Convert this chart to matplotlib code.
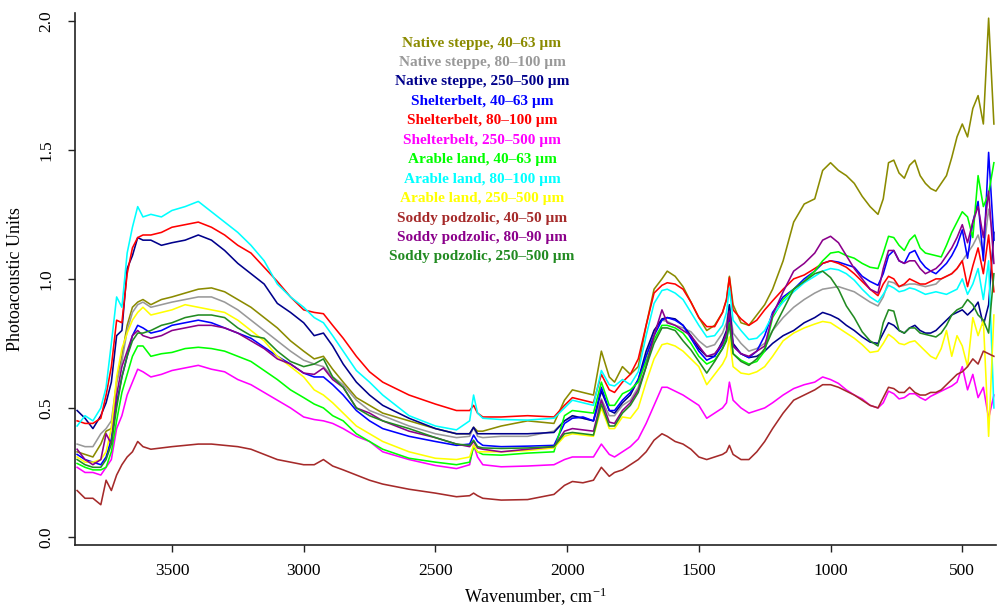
import matplotlib
matplotlib.use("Agg")
import matplotlib.pyplot as plt
import numpy as np

plt.rcParams['font.family'] = ['Liberation Serif', 'DejaVu Serif']
plt.rcParams['mathtext.fontset'] = 'custom'
plt.rcParams['mathtext.rm'] = 'Liberation Serif'
plt.rcParams['mathtext.it'] = 'Liberation Serif:italic'

wavenumber = [3860, 3830, 3800, 3770, 3750, 3730, 3710, 3690, 3670, 3650, 3630, 3610, 3580, 3540, 3500,
              3450, 3400, 3350, 3300, 3250, 3200, 3150, 3100, 3050, 3000, 2960, 2925, 2890, 2850,
              2800, 2750, 2700, 2600, 2500, 2420, 2370, 2355, 2340, 2320, 2250, 2150, 2050,
              2010, 1980, 1940, 1900, 1870, 1840, 1820, 1790, 1760, 1730, 1700, 1670, 1640, 1620,
              1590, 1560, 1530, 1500, 1470, 1440, 1410, 1395, 1384, 1370, 1340, 1310, 1280, 1250,
              1220, 1180, 1140, 1100, 1060, 1030, 1000, 970, 940, 910, 880, 850, 820, 800,
              780, 760, 740, 720, 700, 680, 660, 640, 620, 600, 580,
              560, 540, 520, 500, 480, 460, 440, 420, 400, 380]

native_40_63 = [0.33, 0.32, 0.31, 0.36, 0.41, 0.42, 0.60, 0.70, 0.82, 0.89, 0.91, 0.92, 0.90, 0.92, 0.93,
                0.945, 0.96, 0.965, 0.95, 0.92, 0.89, 0.85, 0.81, 0.76, 0.72, 0.69, 0.70, 0.65, 0.60,
                0.54, 0.51, 0.48, 0.45, 0.42, 0.40, 0.40, 0.425, 0.41, 0.41, 0.43, 0.45, 0.44,
                0.53, 0.57, 0.56, 0.55, 0.72, 0.62, 0.60, 0.66, 0.63, 0.66, 0.82, 0.96, 1.00, 1.03,
                1.01, 0.97, 0.91, 0.85, 0.80, 0.82, 0.87, 0.92, 1.01, 0.90, 0.83, 0.82, 0.86, 0.90,
                0.96, 1.07, 1.22, 1.29, 1.31, 1.42, 1.45, 1.42, 1.40, 1.37, 1.32, 1.28, 1.25, 1.31,
                1.45, 1.46, 1.41, 1.39, 1.44, 1.46, 1.40, 1.37, 1.35, 1.34, 1.37,
                1.40, 1.47, 1.55, 1.60, 1.55, 1.66, 1.71, 1.60, 2.01, 1.60]

native_80_100 = [0.36, 0.35, 0.35, 0.40, 0.42, 0.45, 0.60, 0.68, 0.80, 0.87, 0.90, 0.91, 0.89, 0.90, 0.91,
                 0.92, 0.93, 0.93, 0.91, 0.88, 0.84, 0.80, 0.76, 0.72, 0.685, 0.67, 0.66, 0.62, 0.59,
                 0.53, 0.49, 0.47, 0.43, 0.40, 0.385, 0.39, 0.425, 0.39, 0.385, 0.39, 0.39, 0.41,
                 0.45, 0.465, 0.46, 0.45, 0.535, 0.47, 0.47, 0.51, 0.53, 0.58, 0.70, 0.80, 0.84, 0.835,
                 0.82, 0.81, 0.795, 0.76, 0.735, 0.745, 0.79, 0.83, 0.90, 0.79, 0.75, 0.72, 0.73, 0.75,
                 0.80, 0.85, 0.89, 0.92, 0.945, 0.96, 0.965, 0.97, 0.96, 0.95, 0.93, 0.91, 0.895, 0.93,
                 0.99, 0.985, 0.97, 0.975, 0.98, 0.98, 0.975, 0.97, 0.975, 0.98, 1.00,
                 1.01, 1.02, 1.04, 1.07, 1.10, 1.13, 1.17, 1.10, 1.27, 1.15]

native_250_500 = [0.49, 0.46, 0.42, 0.47, 0.52, 0.60, 0.78, 0.80, 1.04, 1.09, 1.16, 1.15, 1.15, 1.13, 1.14,
                  1.15, 1.17, 1.15, 1.11, 1.06, 1.02, 0.98, 0.905, 0.87, 0.83, 0.78, 0.79, 0.74, 0.67,
                  0.60, 0.55, 0.51, 0.46, 0.42, 0.40, 0.40, 0.425, 0.40, 0.40, 0.40, 0.40, 0.405,
                  0.45, 0.47, 0.46, 0.45, 0.565, 0.49, 0.48, 0.52, 0.55, 0.61, 0.72, 0.80, 0.845, 0.85,
                  0.845, 0.82, 0.78, 0.73, 0.70, 0.70, 0.76, 0.80, 0.90, 0.75, 0.71, 0.695, 0.70, 0.72,
                  0.75, 0.78, 0.80, 0.83, 0.85, 0.87, 0.86, 0.845, 0.82, 0.80, 0.775, 0.755, 0.75, 0.79,
                  0.83, 0.82, 0.80, 0.79, 0.81, 0.82, 0.80, 0.79, 0.79, 0.80, 0.82,
                  0.84, 0.86, 0.87, 0.88, 0.86, 0.88, 0.91, 0.82, 0.90, 1.18]

shelter_40_63 = [0.32, 0.30, 0.29, 0.28, 0.31, 0.38, 0.52, 0.62, 0.70, 0.78, 0.82, 0.81, 0.79, 0.80, 0.82,
                 0.83, 0.84, 0.83, 0.81, 0.79, 0.77, 0.735, 0.70, 0.67, 0.635, 0.62, 0.62, 0.59, 0.55,
                 0.49, 0.45, 0.42, 0.39, 0.37, 0.355, 0.36, 0.395, 0.37, 0.355, 0.35, 0.352, 0.355,
                 0.44, 0.46, 0.465, 0.45, 0.58, 0.49, 0.49, 0.53, 0.56, 0.61, 0.70, 0.78, 0.84, 0.85,
                 0.84, 0.82, 0.77, 0.72, 0.685, 0.70, 0.745, 0.78, 0.85, 0.74, 0.71, 0.695, 0.72, 0.78,
                 0.87, 0.93, 0.96, 1.00, 1.03, 1.06, 1.07, 1.065, 1.055, 1.045, 1.01, 0.99, 0.975, 1.02,
                 1.09, 1.11, 1.07, 1.06, 1.10, 1.11, 1.07, 1.045, 1.03, 1.02, 1.04,
                 1.06, 1.09, 1.13, 1.19, 1.08, 1.22, 1.30, 1.07, 1.49, 1.15]

shelter_80_100 = [0.45, 0.44, 0.44, 0.46, 0.55, 0.66, 0.84, 0.83, 1.02, 1.12, 1.16, 1.17, 1.17, 1.18, 1.20,
                  1.21, 1.22, 1.20, 1.17, 1.13, 1.10, 1.045, 0.99, 0.93, 0.88, 0.87, 0.865, 0.82, 0.77,
                  0.70, 0.64, 0.60, 0.55, 0.515, 0.49, 0.49, 0.51, 0.48, 0.465, 0.465, 0.47, 0.465,
                  0.51, 0.54, 0.53, 0.52, 0.63, 0.57, 0.56, 0.60, 0.63, 0.69, 0.82, 0.945, 0.975, 0.985,
                  0.98, 0.96, 0.91, 0.85, 0.815, 0.815, 0.87, 0.92, 1.005, 0.88, 0.845, 0.82, 0.84, 0.88,
                  0.915, 0.96, 1.00, 1.015, 1.04, 1.06, 1.07, 1.06, 1.045, 1.02, 0.99, 0.96, 0.935, 0.98,
                  1.01, 1.00, 0.97, 0.98, 1.00, 0.99, 0.98, 0.98, 0.99, 1.00, 1.00,
                  1.01, 1.02, 1.04, 1.07, 0.97, 1.05, 1.12, 1.02, 1.17, 0.95]

shelter_250_500 = [0.27, 0.25, 0.25, 0.24, 0.27, 0.30, 0.42, 0.47, 0.55, 0.60, 0.65, 0.64, 0.62, 0.63, 0.645,
                   0.655, 0.665, 0.65, 0.64, 0.61, 0.59, 0.56, 0.53, 0.50, 0.465, 0.455, 0.45, 0.44, 0.42,
                   0.39, 0.37, 0.33, 0.30, 0.277, 0.265, 0.28, 0.356, 0.31, 0.28, 0.272, 0.275, 0.28,
                   0.30, 0.31, 0.31, 0.31, 0.36, 0.32, 0.31, 0.33, 0.35, 0.38, 0.44, 0.51, 0.58, 0.58,
                   0.565, 0.55, 0.53, 0.51, 0.46, 0.48, 0.50, 0.52, 0.60, 0.53, 0.50, 0.48, 0.49, 0.50,
                   0.52, 0.55, 0.575, 0.59, 0.60, 0.62, 0.61, 0.595, 0.57, 0.55, 0.535, 0.51, 0.50, 0.52,
                   0.565, 0.555, 0.535, 0.54, 0.555, 0.555, 0.54, 0.53, 0.545, 0.555, 0.565,
                   0.575, 0.585, 0.60, 0.66, 0.57, 0.63, 0.54, 0.58, 0.46, 0.55]

arable_40_63 = [0.285, 0.27, 0.26, 0.26, 0.27, 0.33, 0.45, 0.56, 0.63, 0.70, 0.74, 0.74, 0.70, 0.71, 0.715,
                0.73, 0.735, 0.73, 0.72, 0.70, 0.68, 0.645, 0.61, 0.57, 0.54, 0.515, 0.50, 0.47, 0.45,
                0.40, 0.37, 0.34, 0.305, 0.29, 0.28, 0.29, 0.35, 0.33, 0.32, 0.317, 0.325, 0.33,
                0.47, 0.49, 0.485, 0.48, 0.60, 0.51, 0.51, 0.555, 0.57, 0.60, 0.68, 0.765, 0.82, 0.82,
                0.81, 0.79, 0.75, 0.70, 0.67, 0.685, 0.73, 0.77, 0.83, 0.71, 0.685, 0.67, 0.68, 0.72,
                0.85, 0.92, 0.96, 0.99, 1.03, 1.07, 1.10, 1.105, 1.09, 1.08, 1.06, 1.045, 1.04, 1.10,
                1.165, 1.16, 1.13, 1.11, 1.15, 1.17, 1.12, 1.10, 1.095, 1.09, 1.085,
                1.13, 1.18, 1.22, 1.26, 1.24, 1.16, 1.40, 1.28, 1.33, 1.45]

arable_80_100 = [0.43, 0.47, 0.45, 0.50, 0.58, 0.75, 0.93, 0.89, 1.10, 1.20, 1.28, 1.24, 1.25, 1.24, 1.265,
                 1.28, 1.30, 1.26, 1.22, 1.18, 1.13, 1.07, 0.98, 0.93, 0.89, 0.85, 0.83, 0.78, 0.72,
                 0.645, 0.60, 0.55, 0.47, 0.43, 0.415, 0.45, 0.55, 0.48, 0.46, 0.455, 0.453, 0.46,
                 0.50, 0.53, 0.52, 0.51, 0.645, 0.59, 0.585, 0.61, 0.59, 0.64, 0.78, 0.905, 0.955, 0.96,
                 0.945, 0.92, 0.87, 0.82, 0.775, 0.78, 0.82, 0.87, 0.965, 0.84, 0.80, 0.765, 0.77, 0.80,
                 0.86, 0.91, 0.95, 0.985, 1.01, 1.03, 1.04, 1.035, 1.02, 0.995, 0.96, 0.93, 0.91, 0.94,
                 0.975, 0.965, 0.95, 0.955, 0.965, 0.96, 0.95, 0.94, 0.945, 0.95, 0.945,
                 0.94, 0.95, 0.96, 1.00, 0.94, 0.98, 1.04, 0.92, 1.07, 0.50]

arable_250_500 = [0.31, 0.29, 0.29, 0.30, 0.33, 0.42, 0.62, 0.73, 0.79, 0.84, 0.87, 0.89, 0.86, 0.87, 0.88,
                  0.90, 0.89, 0.88, 0.87, 0.84, 0.80, 0.76, 0.70, 0.66, 0.62, 0.57, 0.55, 0.52, 0.48,
                  0.43, 0.40, 0.37, 0.33, 0.305, 0.30, 0.31, 0.356, 0.33, 0.33, 0.33, 0.335, 0.345,
                  0.39, 0.40, 0.395, 0.39, 0.50, 0.42, 0.42, 0.465, 0.46, 0.50, 0.60, 0.69, 0.745, 0.75,
                  0.74, 0.72, 0.69, 0.66, 0.59, 0.63, 0.67, 0.70, 0.775, 0.66, 0.635, 0.63, 0.64, 0.66,
                  0.70, 0.76, 0.79, 0.81, 0.825, 0.835, 0.83, 0.81, 0.79, 0.77, 0.745, 0.715, 0.72, 0.75,
                  0.785, 0.77, 0.75, 0.745, 0.755, 0.76, 0.74, 0.72, 0.70, 0.69, 0.73,
                  0.80, 0.70, 0.78, 0.74, 0.66, 0.85, 0.78, 0.84, 0.39, 0.86]

soddy_40_50 = [0.18, 0.15, 0.15, 0.125, 0.22, 0.18, 0.24, 0.28, 0.31, 0.33, 0.37, 0.35, 0.34, 0.345, 0.35,
               0.355, 0.36, 0.36, 0.355, 0.35, 0.34, 0.32, 0.30, 0.29, 0.28, 0.28, 0.30, 0.275, 0.26,
               0.24, 0.22, 0.205, 0.185, 0.17, 0.156, 0.16, 0.17, 0.16, 0.15, 0.143, 0.145, 0.165,
               0.20, 0.215, 0.21, 0.22, 0.27, 0.235, 0.25, 0.26, 0.28, 0.30, 0.33, 0.375, 0.40, 0.39,
               0.37, 0.36, 0.34, 0.31, 0.30, 0.31, 0.32, 0.33, 0.355, 0.32, 0.30, 0.30, 0.33, 0.37,
               0.42, 0.48, 0.53, 0.55, 0.57, 0.59, 0.59, 0.58, 0.565, 0.55, 0.53, 0.51, 0.50, 0.54,
               0.58, 0.575, 0.56, 0.56, 0.58, 0.56, 0.55, 0.55, 0.56, 0.56, 0.57,
               0.59, 0.61, 0.63, 0.64, 0.66, 0.69, 0.67, 0.72, 0.71, 0.70]

soddy_80_90 = [0.34, 0.30, 0.28, 0.30, 0.40, 0.36, 0.55, 0.66, 0.72, 0.78, 0.80, 0.78, 0.77, 0.78, 0.80,
               0.81, 0.82, 0.82, 0.81, 0.79, 0.76, 0.73, 0.69, 0.67, 0.635, 0.63, 0.655, 0.61, 0.58,
               0.50, 0.48, 0.45, 0.41, 0.385, 0.36, 0.35, 0.37, 0.345, 0.34, 0.33, 0.34, 0.35,
               0.41, 0.42, 0.415, 0.41, 0.53, 0.445, 0.44, 0.49, 0.52, 0.57, 0.66, 0.78, 0.88, 0.83,
               0.82, 0.80, 0.78, 0.74, 0.70, 0.71, 0.75, 0.79, 0.875, 0.74, 0.71, 0.70, 0.72, 0.74,
               0.86, 0.95, 1.03, 1.06, 1.10, 1.15, 1.165, 1.14, 1.09, 1.04, 1.00, 0.96, 0.945, 1.04,
               1.11, 1.11, 1.07, 1.06, 1.07, 1.07, 1.04, 1.02, 1.03, 1.04, 1.06,
               1.09, 1.12, 1.16, 1.21, 1.14, 1.22, 1.28, 1.16, 1.34, 1.06]

soddy_250_500 = [0.30, 0.28, 0.27, 0.27, 0.30, 0.36, 0.50, 0.62, 0.70, 0.76, 0.79, 0.79, 0.80, 0.82, 0.83,
                 0.85, 0.86, 0.86, 0.85, 0.81, 0.78, 0.77, 0.72, 0.68, 0.66, 0.67, 0.69, 0.62, 0.58,
                 0.50, 0.47, 0.45, 0.42, 0.385, 0.36, 0.355, 0.375, 0.35, 0.345, 0.343, 0.345, 0.35,
                 0.40, 0.405, 0.40, 0.395, 0.515, 0.43, 0.43, 0.48, 0.51, 0.56, 0.66, 0.75, 0.81, 0.81,
                 0.80, 0.76, 0.725, 0.68, 0.635, 0.68, 0.73, 0.76, 0.825, 0.71, 0.68, 0.665, 0.69, 0.73,
                 0.80, 0.88, 0.96, 0.99, 1.02, 1.03, 1.005, 0.96, 0.895, 0.85, 0.795, 0.76, 0.74, 0.83,
                 0.88, 0.875, 0.80, 0.79, 0.81, 0.81, 0.79, 0.785, 0.78, 0.775, 0.79,
                 0.82, 0.86, 0.88, 0.89, 0.92, 0.90, 0.86, 0.84, 0.79, 1.02]

labels = ["Native steppe, 40\u201363 \u00b5m", "Native steppe, 80\u2013100 \u00b5m",
          "Native steppe, 250\u2013500 \u00b5m", "Shelterbelt, 40\u201363 \u00b5m",
          "Shelterbelt, 80\u2013100 \u00b5m", "Shelterbelt, 250\u2013500 \u00b5m",
          "Arable land, 40\u201363 \u00b5m", "Arable land, 80\u2013100 \u00b5m",
          "Arable land, 250\u2013500 \u00b5m", "Soddy podzolic, 40\u201350 \u00b5m",
          "Soddy podzolic, 80\u201390 \u00b5m", "Soddy podzolic, 250\u2013500 \u00b5m"]

series = [native_40_63, native_80_100, native_250_500, shelter_40_63, shelter_80_100,
          shelter_250_500, arable_40_63, arable_80_100, arable_250_500, soddy_40_50,
          soddy_80_90, soddy_250_500]

colors = ['#8B8B00', '#999999', '#00008B', '#0000FF', '#FF0000', '#FF00FF',
          '#00FF00', '#00FFFF', '#FFFF00', '#A52A2A', '#8B008B', '#228B22']

for s in series:
    assert len(s) == len(wavenumber), len(s)

fig = plt.figure(figsize=(9.98, 6.08), dpi=100)
ax = fig.add_axes([75 / 998, 1 - 545 / 608, (996 - 75) / 998, (545 - 13) / 608])

for s, c in zip(series, colors):
    ax.plot(wavenumber, s, color=c, lw=1.15)

ax.set_xlim(3868, 372)
ax.set_ylim(-0.031, 2.03)
ax.set_xticks([3500, 3000, 2500, 2000, 1500, 1000, 500])
ax.set_yticks([0.0, 0.5, 1.0, 1.5, 2.0])
ax.set_yticklabels(['0.0', '0.5', '1.0', '1.5', '2.0'], rotation=90, va='center')
ax.tick_params(direction='out', length=5, width=1, labelsize=12.5, color='#222222')
ax.tick_params(axis='x', pad=8)
ax.tick_params(axis='y', pad=10)
for sp in ['top', 'right']:
    ax.spines[sp].set_visible(False)
for sp in ['left', 'bottom']:
    ax.spines[sp].set_linewidth(1.2)
    ax.spines[sp].set_color('#222222')

ax.set_xlabel(r'Wavenumber, cm$^{\mathregular{-1}}$', fontsize=13, labelpad=5)
ax.set_ylabel('Photoacoustic Units', fontsize=13, labelpad=10)

for i, (lab, c) in enumerate(zip(labels, colors)):
    ypx = 43 + i * 19.45
    fig.text(482 / 998, 1 - ypx / 608, lab, color=c, fontsize=11, fontweight='bold',
             ha='center', va='center')

fig.savefig('out.png', dpi=100)
